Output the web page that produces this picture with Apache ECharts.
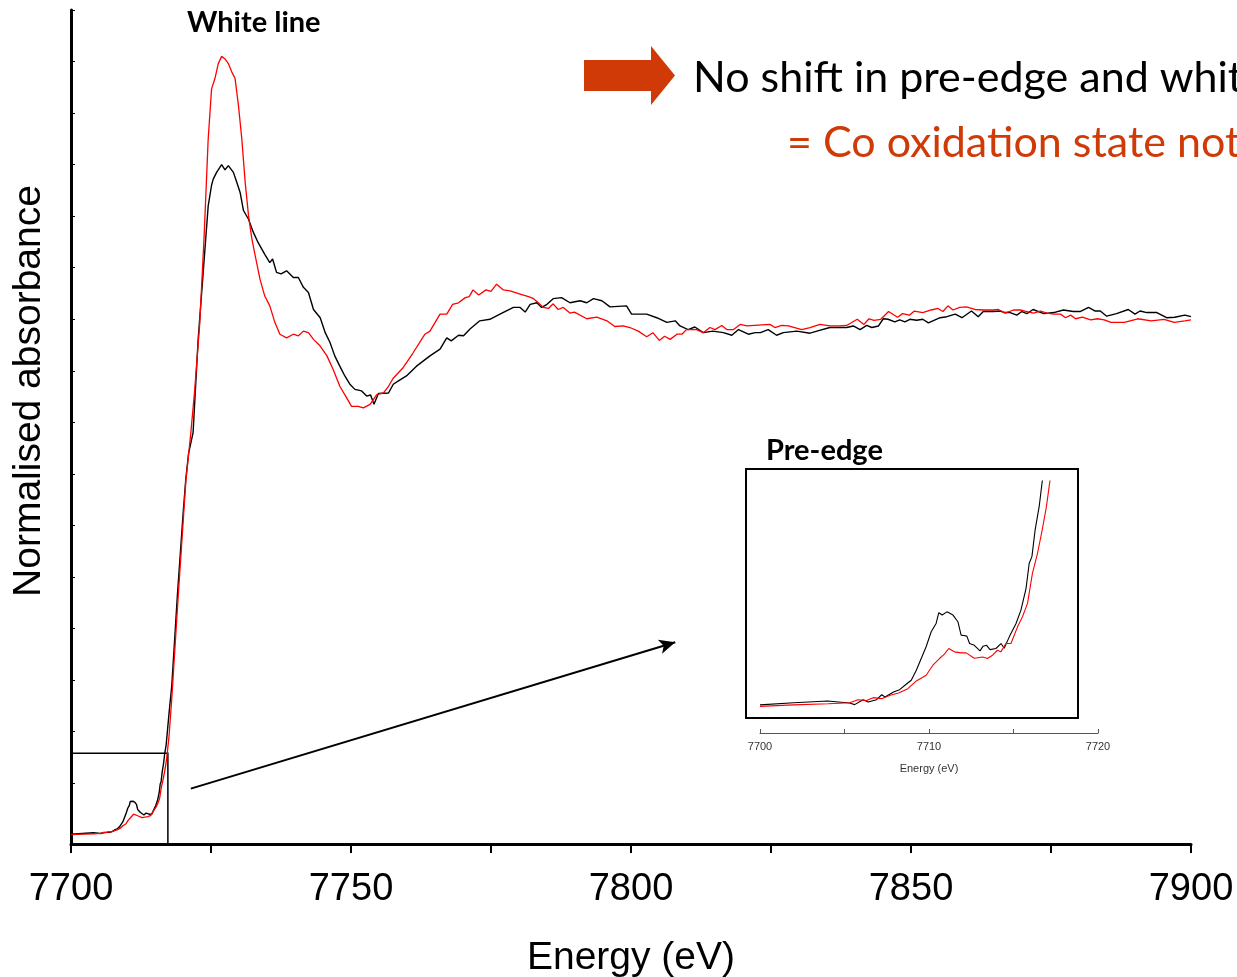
<!DOCTYPE html>
<html><head><meta charset="utf-8">
<script src="https://cdn.jsdelivr.net/npm/echarts@6/dist/echarts.min.js"></script>
<style>html,body{margin:0;padding:0;background:#fff;overflow:hidden}#c{width:1237px;height:977px}</style>
</head><body><div id="c"></div>
<script>
// Black spectrum (energy eV / normalised absorbance)
const blackE = [7700.0,7702.0,7704.0,7705.3,7705.6,7706.1,7706.4,7706.9,7707.2,7707.4,7707.9,7708.26,7708.65,7708.95,7709.25,7709.54,7709.83,7710.13,7710.42,7710.58,7710.78,7711.06,7711.42,7711.71,7711.9,7712.05,7712.24,7712.4,7712.68,7713.02,7713.2,7713.41,7713.61,7713.96,7714.26,7714.45,7714.75,7715.15,7715.44,7715.74,7715.93,7716.09,7716.28,7716.52,7716.7,7717.0,7717.5,7718.0,7719.0,7720.0,7720.5,7721.0,7721.8,7722.7,7723.6,7724.5,7725.1,7725.4,7726.0,7726.9,7727.5,7728.1,7729.0,7729.6,7730.2,7730.8,7731.7,7732.55,7733.4,7734.6,7735.5,7736.0,7736.7,7737.5,7738.5,7739.7,7740.6,7741.5,7742.4,7743.3,7744.5,7745.4,7746.25,7747.1,7748.0,7748.9,7749.8,7750.7,7751.9,7752.8,7753.5,7754.1,7754.9,7756.7,7757.55,7758.4,7759.9,7761.7,7764.1,7765.9,7767.1,7767.9,7769.2,7770.1,7771.25,7773.0,7774.8,7776.6,7779.0,7780.2,7781.1,7782.0,7783.2,7784.05,7785.0,7786.1,7787.6,7789.1,7790.9,7792.1,7793.3,7794.8,7796.25,7799.2,7800.1,7802.8,7804.6,7806.4,7807.9,7808.75,7810.2,7811.4,7812.9,7814.6,7816.5,7818.0,7819.2,7820.95,7822.2,7823.1,7824.5,7826.0,7827.2,7829.6,7831.96,7833.2,7835.5,7838.5,7839.7,7840.9,7842.1,7843.0,7844.2,7845.05,7845.9,7847.1,7848.0,7848.9,7849.8,7851.0,7852.1,7853.1,7855.2,7856.4,7857.9,7859.1,7860.8,7862.0,7862.9,7864.7,7865.9,7866.8,7867.7,7868.9,7869.8,7870.7,7871.8,7873.7,7875.5,7877.2,7879.0,7880.2,7881.7,7882.9,7883.8,7884.95,7886.7,7888.8,7890.0,7890.9,7892.1,7893.9,7895.65,7897.1,7898.9,7900.0];
const blackMu = [0.001,0.0025,0.0037,0.0023,0.0012,0.0046,0.003,0.0046,0.008,0.0064,0.0099,0.0115,0.0152,0.018,0.0248,0.0329,0.041,0.0513,0.057,0.0644,0.0628,0.065,0.0628,0.0582,0.049,0.0487,0.0483,0.0432,0.042,0.0382,0.0414,0.042,0.039,0.0398,0.0432,0.04,0.0478,0.057,0.0662,0.081,0.0984,0.103,0.1214,0.1375,0.1547,0.175,0.235,0.29,0.465,0.62,0.69,0.74,0.78,0.96,1.09,1.22,1.26,1.272,1.285,1.30,1.29,1.298,1.285,1.266,1.246,1.211,1.194,1.169,1.149,1.126,1.11,1.117,1.091,1.088,1.094,1.081,1.081,1.062,1.052,1.019,1.003,0.974,0.955,0.929,0.909,0.89,0.874,0.864,0.861,0.851,0.853,0.835,0.856,0.857,0.874,0.88,0.89,0.909,0.929,0.942,0.964,0.958,0.969,0.968,0.981,0.997,1.0,1.01,1.023,1.023,1.014,1.029,1.032,1.023,1.029,1.04,1.042,1.032,1.036,1.032,1.04,1.036,1.024,1.026,1.01,1.01,1.003,0.994,0.997,0.987,0.98,0.985,0.974,0.977,0.974,0.969,0.98,0.971,0.974,0.974,0.98,0.969,0.974,0.977,0.973,0.977,0.984,0.984,0.987,0.98,0.988,0.984,0.987,1.001,1.0,0.995,0.999,0.995,1.0,0.998,1.0,0.993,1.003,1.005,1.01,1.003,1.016,1.005,1.015,1.015,1.016,1.013,1.013,1.008,1.015,1.011,1.019,1.011,1.013,1.018,1.015,1.015,1.023,1.016,1.016,1.006,1.011,1.019,1.01,1.016,1.013,1.013,1.003,1.004,1.008,1.005];
// Red spectrum
const redE = [7700.0,7702.0,7704.03,7705.3,7705.8,7706.3,7706.7,7707.2,7707.7,7708.2,7708.75,7709.25,7709.83,7710.23,7710.62,7710.91,7711.17,7711.5,7711.9,7712.2,7712.68,7713.17,7713.46,7713.76,7714.05,7714.25,7714.55,7714.85,7715.24,7715.53,7715.83,7716.12,7716.42,7716.7,7716.95,7717.15,7717.5,7718.0,7719.1,7720.5,7721.4,7722.1,7723.0,7723.75,7724.5,7725.1,7725.7,7726.3,7726.9,7727.5,7728.1,7728.7,7729.3,7729.9,7730.5,7731.1,7731.7,7732.3,7732.9,7733.75,7734.6,7735.5,7736.4,7737.3,7738.5,7739.7,7740.6,7741.5,7742.4,7743.3,7744.5,7745.7,7746.8,7748.0,7749.2,7750.1,7751.3,7752.2,7753.4,7754.6,7755.8,7756.7,7757.5,7759.3,7761.1,7763.2,7764.1,7765.9,7767.1,7768.15,7769.2,7770.4,7771.1,7771.8,7772.8,7774.1,7775.0,7776.0,7777.2,7778.4,7780.2,7781.7,7782.6,7783.45,7784.35,7785.25,7786.1,7787.0,7787.9,7789.1,7789.9,7792.1,7793.9,7795.7,7797.1,7798.6,7799.8,7801.3,7802.8,7803.9,7805.05,7806.0,7807.0,7808.2,7809.1,7809.9,7811.7,7812.9,7814.1,7815.0,7816.2,7817.1,7818.3,7819.5,7820.7,7824.8,7825.7,7826.9,7828.1,7830.5,7831.96,7833.75,7835.5,7837.3,7838.5,7840.4,7841.6,7842.5,7843.4,7844.6,7846.0,7847.6,7848.5,7849.7,7850.6,7852.1,7853.6,7854.8,7855.7,7856.6,7857.5,7858.7,7859.9,7861.4,7862.9,7864.7,7865.6,7866.8,7868.3,7869.5,7870.7,7871.9,7873.1,7874.3,7875.5,7876.7,7877.6,7878.5,7879.4,7880.6,7882.1,7883.3,7884.5,7885.7,7888.1,7890.5,7892.9,7895.2,7897.0,7898.9,7900.0];
const redMu = [0.0,0.001,0.0018,0.0025,0.0046,0.004,0.006,0.0053,0.0076,0.0092,0.0122,0.0175,0.0214,0.0283,0.0329,0.0359,0.0398,0.0375,0.0368,0.0368,0.0331,0.034,0.0329,0.0352,0.0386,0.0375,0.0432,0.0432,0.0547,0.0616,0.0708,0.0915,0.1053,0.1214,0.1375,0.1547,0.19,0.265,0.455,0.685,0.78,0.864,0.994,1.156,1.35,1.447,1.467,1.496,1.51,1.505,1.496,1.48,1.467,1.415,1.35,1.266,1.201,1.156,1.123,1.078,1.045,1.026,0.994,0.971,0.964,0.971,0.968,0.977,0.974,0.961,0.948,0.929,0.903,0.870,0.848,0.831,0.831,0.828,0.835,0.854,0.857,0.87,0.885,0.906,0.935,0.971,0.977,1.01,1.01,1.029,1.032,1.042,1.044,1.057,1.047,1.057,1.054,1.068,1.057,1.055,1.049,1.044,1.04,1.032,1.023,1.021,1.030,1.019,1.023,1.012,1.014,1.001,1.004,0.997,0.986,0.987,0.984,0.977,0.966,0.974,0.959,0.967,0.961,0.971,0.971,0.98,0.98,0.974,0.984,0.98,0.988,0.98,0.98,0.99,0.987,0.99,0.984,0.988,0.987,0.98,0.984,0.99,0.987,0.987,0.988,1.0,0.99,1.001,0.998,1.0,1.015,1.004,1.011,1.008,1.016,1.013,1.018,1.021,1.015,1.026,1.018,1.023,1.024,1.019,1.018,1.018,1.019,1.012,1.018,1.018,1.015,1.012,1.016,1.012,1.01,1.01,1.003,1.008,1.001,1.004,0.999,1.001,0.999,0.994,0.994,1.001,0.997,1.0,0.994,0.997,0.999];
// Main axis ticks
const mainXTicks = [7700, 7750, 7800, 7850, 7900];
const mainYTicks = [0,0.1,0.2,0.3,0.4,0.5,0.6,0.7,0.8,0.9,1.0,1.1,1.2,1.3,1.4,1.5,1.6];
const insetXTicks = [7700, 7710, 7720];
// Zoom window and pointer (data units)
const zoomBox = [[7700, -0.02], [7717.3, 0.158]];
const pointer = [[7721.4, 0.0895], [7807.9, 0.3735]];

const pair = (xs, ys, maxX) => xs.map((x, i) => [x, ys[i]]).filter(p => maxX === undefined || p[0] <= maxX);

const chart = echarts.init(document.getElementById('c'), null, {renderer: 'canvas'});
const orange = '#cf3a06';
const option = {
  animation: false,
  backgroundColor: '#fff',
  grid: [
    {left: 71, right: 46, top: 10, bottom: 133, containLabel: false, outerBoundsMode: 'none'},
    {left: 760, width: 338, top: 481, height: 237, containLabel: false, outerBoundsMode: 'none'}
  ],
  xAxis: [
    {
      gridIndex: 0, type: 'value', min: 7700, max: 7900, interval: 25,
      axisLine: {onZero: false, lineStyle: {color: '#000', width: 3}},
      axisTick: {length: 9, lineStyle: {color: '#000', width: 2}},
      splitLine: {show: false},
      axisLabel: {
        margin: 27, color: '#000', fontSize: 38, fontFamily: 'Liberation Sans, Arial',
        formatter: v => mainXTicks.includes(v) ? String(v) : ''
      },
      name: 'Energy (eV)', nameLocation: 'middle', nameGap: 95,
      nameTextStyle: {color: '#000', fontSize: 39, fontFamily: 'Liberation Sans, Arial'}
    },
    {
      gridIndex: 1, type: 'value', min: 7700, max: 7720, interval: 5, offset: 15,
      axisLine: {onZero: false, lineStyle: {color: '#555', width: 1}},
      axisTick: {inside: true, length: 4, lineStyle: {color: '#555'}},
      splitLine: {show: false},
      axisLabel: {
        margin: 8, color: '#333', fontSize: 11, fontFamily: 'Liberation Sans, Arial',
        formatter: v => insetXTicks.includes(v) ? String(v) : ''
      },
      name: 'Energy (eV)', nameLocation: 'middle', nameGap: 30,
      nameTextStyle: {color: '#333', fontSize: 11, fontFamily: 'Liberation Sans, Arial'}
    }
  ],
  yAxis: [
    {
      gridIndex: 0, type: 'value', min: -0.018, max: 1.6,
      axisLine: {show: true, onZero: false, lineStyle: {color: '#000', width: 3}},
      axisTick: {show: true, inside: true, length: 4, customValues: mainYTicks, lineStyle: {color: '#000', width: 1}},
      axisLabel: {show: false},
      splitLine: {show: false},
      name: 'Normalised absorbance', nameLocation: 'middle', nameGap: 22,
      nameTextStyle: {color: '#000', fontSize: 39, fontFamily: 'Liberation Sans, Arial', padding: [0, 0, 0, 72]}
    },
    {
      gridIndex: 1, type: 'value', min: -0.008, max: 0.155, show: false, splitLine: {show: false}
    }
  ],
  series: [
    {
      type: 'line', xAxisIndex: 0, yAxisIndex: 0, data: pair(blackE, blackMu),
      showSymbol: false, symbol: 'none', lineStyle: {color: '#000', width: 1.4}, z: 3,
      markArea: {
        silent: true,
        itemStyle: {color: 'rgba(0,0,0,0)', borderColor: '#000', borderWidth: 1.5},
        data: [[{coord: zoomBox[0]}, {coord: zoomBox[1]}]]
      },
      markLine: {
        silent: true, symbol: ['none', 'arrow'], symbolSize: [11, 16],
        label: {show: false},
        lineStyle: {color: '#000', width: 2, type: 'solid'},
        data: [[{coord: pointer[0]}, {coord: pointer[1]}]]
      }
    },
    {
      type: 'line', xAxisIndex: 0, yAxisIndex: 0, data: pair(redE, redMu),
      showSymbol: false, symbol: 'none', lineStyle: {color: '#ff0000', width: 1.3}, z: 4
    },
    {
      type: 'line', xAxisIndex: 1, yAxisIndex: 1, data: pair(blackE, blackMu, 7719),
      showSymbol: false, symbol: 'none', clip: true, lineStyle: {color: '#000', width: 1.1}
    },
    {
      type: 'line', xAxisIndex: 1, yAxisIndex: 1, data: pair(redE, redMu, 7719),
      showSymbol: false, symbol: 'none', clip: true, lineStyle: {color: '#ff0000', width: 1.1}
    }
  ],
  graphic: [
    {type: 'rect', shape: {x: 746, y: 469, width: 332, height: 249}, style: {fill: 'none', stroke: '#000', lineWidth: 2}, z: 10},
    {type: 'text', style: {text: 'White line', x: 187, y: 23, font: 'bold 29px Lato', fill: '#000', textVerticalAlign: 'middle'}},
    {type: 'text', style: {text: 'Pre-edge', x: 766, y: 451, font: 'bold 29px Lato', fill: '#000', textVerticalAlign: 'middle'}},
    {type: 'polygon', shape: {points: [[584, 60], [651, 60], [651, 46], [675, 75.5], [651, 105], [651, 91], [584, 91]]}, style: {fill: orange}},
    {type: 'text', style: {text: 'No shift in pre-edge and white line', x: 693, y: 78, font: '43px Lato', fill: '#000', textVerticalAlign: 'middle'}},
    {type: 'text', style: {text: '= Co oxidation state not changed', x: 787, y: 143, font: '43px Lato', fill: orange, textVerticalAlign: 'middle'}}
  ]
};
chart.setOption(option);
</script></body></html>
